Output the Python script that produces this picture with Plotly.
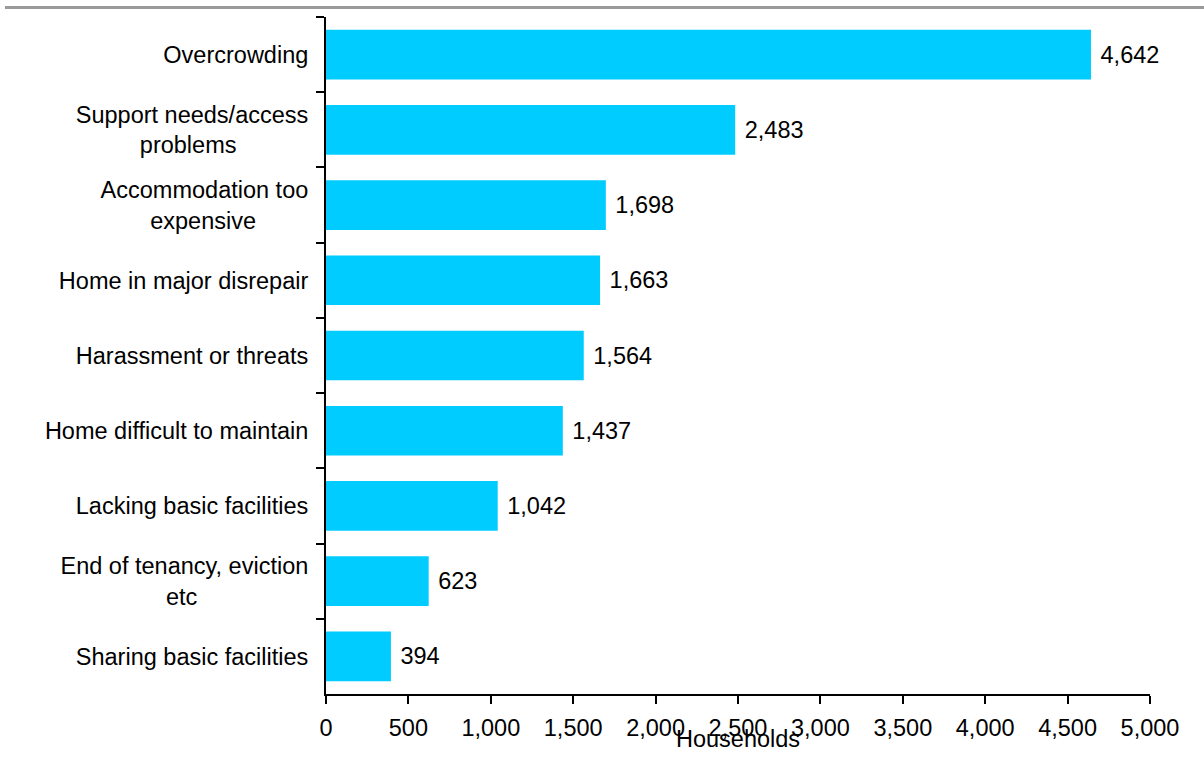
import plotly.graph_objects as go

NB = "\u00a0"
categories = [
    "Overcrowding",
    "Support needs/access<br>problems" + NB * 11,
    "Accommodation too<br>expensive" + NB * 8,
    "Home in major disrepair",
    "Harassment or threats",
    "Home difficult to maintain",
    "Lacking basic facilities",
    "End of tenancy, eviction<br>etc" + NB * 17,
    "Sharing basic facilities",
]
households = [4642, 2483, 1698, 1663, 1564, 1437, 1042, 623, 394]
x_ticks = [0, 500, 1000, 1500, 2000, 2500, 3000, 3500, 4000, 4500, 5000]
x_title = "Households"

FONT = "Liberation Sans, Arial, sans-serif"
FS = 23.5

fig = go.Figure(
    go.Bar(
        x=households,
        y=categories,
        orientation="h",
        marker=dict(color="#00CCFF", line=dict(width=0)),
        texttemplate=NB + "%{x:,}",
        textposition="outside",
        textfont=dict(family=FONT, size=FS, color="#000000"),
        cliponaxis=False,
        hoverinfo="skip",
    )
)

fig.update_layout(
    width=1204,
    height=767,
    margin=dict(l=326, r=54, t=17, b=73),
    paper_bgcolor="white",
    plot_bgcolor="white",
    showlegend=False,
    bargap=0.34,
    font=dict(family=FONT, size=FS, color="#000000"),
    xaxis=dict(
        range=[0, 5000],
        tickvals=x_ticks,
        ticktext=[f"{v:,}" for v in x_ticks],
        showgrid=False,
        zeroline=False,
        showline=True,
        linecolor="#000000",
        linewidth=2,
        ticks="outside",
        ticklen=8,
        tickwidth=2,
        tickcolor="#000000",
        ticklabelstandoff=4,
        tickfont=dict(family=FONT, size=FS, color="#000000"),
        fixedrange=True,
    ),
    yaxis=dict(
        categoryorder="array",
        categoryarray=categories,
        autorange="reversed",
        showgrid=False,
        zeroline=False,
        showline=True,
        linecolor="#000000",
        linewidth=2,
        ticks="outside",
        tickson="boundaries",
        ticklen=8,
        tickwidth=2,
        tickcolor="#000000",
        ticklabelstandoff=11,
        tickfont=dict(family=FONT, size=FS, color="#000000"),
        fixedrange=True,
    ),
    annotations=[
        dict(
            text=x_title,
            xref="paper",
            yref="paper",
            x=0.5,
            y=-0.066,
            xanchor="center",
            yanchor="middle",
            showarrow=False,
            font=dict(family=FONT, size=FS, color="#000000"),
        )
    ],
    shapes=[
        dict(
            type="line",
            xref="paper",
            yref="paper",
            x0=-0.3896,
            x1=1.07,
            y0=1.014,
            y1=1.014,
            line=dict(color="#999999", width=3),
        )
    ],
)

fig.write_html("out.html")
